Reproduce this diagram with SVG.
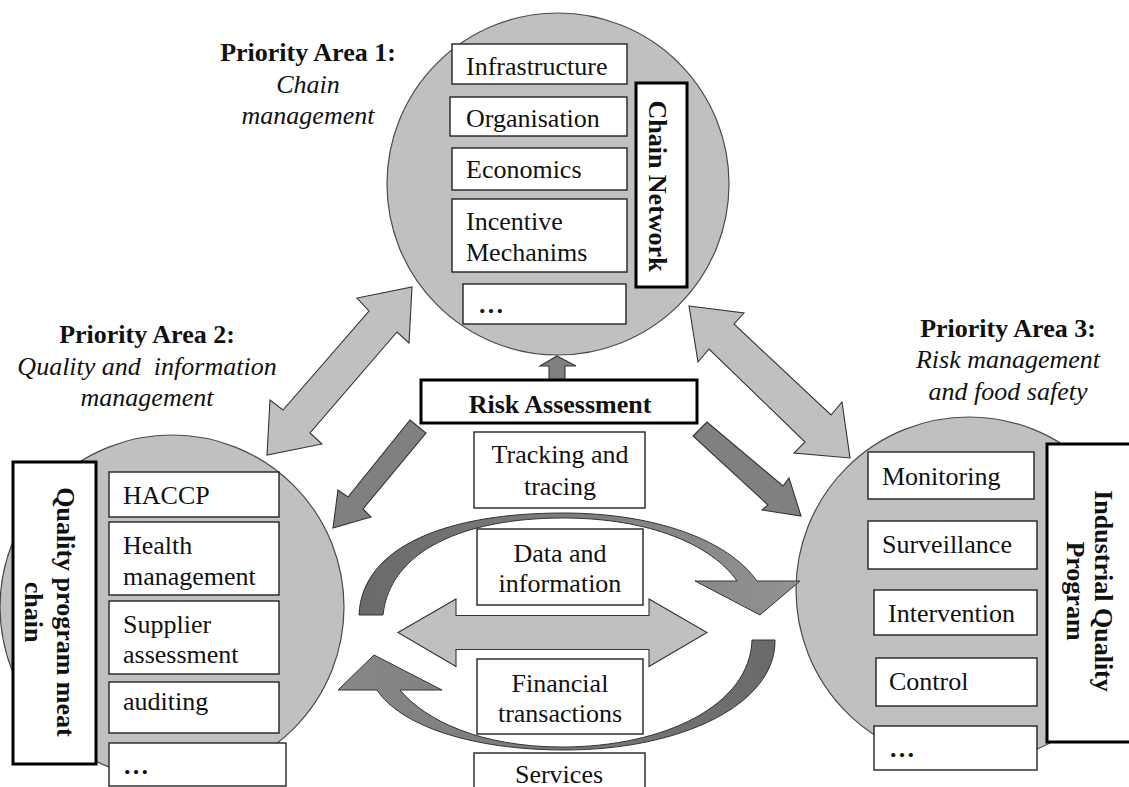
<svg xmlns="http://www.w3.org/2000/svg" width="1129" height="787" viewBox="0 0 1129 787">
  <defs>
    <style>
      .circle { fill: #c0c0c0; stroke: #4a4a4a; stroke-width: 1.2; }
      .box { fill: #ffffff; stroke: #222222; stroke-width: 1.4; }
      .frame { fill: #ffffff; stroke: #000000; stroke-width: 3; }
      .light { fill: #c0c0c0; stroke: #333333; stroke-width: 1.1; stroke-linejoin: miter; }
      .dark { fill: #808080; stroke: #333333; stroke-width: 1.1; }
      text { font-family: "Liberation Serif", "Times New Roman", serif; font-size: 26px; fill: #111111; }
      .b { font-weight: bold; }
      .i { font-style: italic; }
      .c { text-anchor: middle; }
    </style>
    <linearGradient id="curveTop" x1="359" y1="0" x2="800" y2="0" gradientUnits="userSpaceOnUse">
      <stop offset="0" stop-color="#6a6a6a"/>
      <stop offset="1" stop-color="#929292"/>
    </linearGradient>
    <linearGradient id="curveBottom" x1="775" y1="0" x2="338" y2="0" gradientUnits="userSpaceOnUse">
      <stop offset="0" stop-color="#6a6a6a"/>
      <stop offset="1" stop-color="#888888"/>
    </linearGradient>
  </defs>

  <!-- heading labels of the three priority areas -->
  <g id="area1-label">
    <text class="b c" x="308" y="61">Priority Area 1:</text>
    <text class="i c" x="308" y="93">Chain</text>
    <text class="i c" x="308" y="124">management</text>
  </g>
  <g id="area2-label">
    <text class="b c" x="147" y="343">Priority Area 2:</text>
    <text class="i c" x="147" y="375" xml:space="preserve">Quality and  information</text>
    <text class="i c" x="147" y="406">management</text>
  </g>
  <g id="area3-label">
    <text class="b c" x="1008" y="337">Priority Area 3:</text>
    <text class="i c" x="1008" y="368">Risk management</text>
    <text class="i c" x="1008" y="400">and food safety</text>
  </g>

  <!-- Priority area 1: chain network -->
  <g id="chain-network">
    <circle class="circle" cx="558" cy="184" r="171"/>
    <rect class="box" x="452" y="44" width="175" height="40"/>
    <text x="466" y="75">Infrastructure</text>
    <rect class="box" x="450" y="97" width="177" height="39"/>
    <text x="466" y="127">Organisation</text>
    <rect class="box" x="452" y="148" width="175" height="42"/>
    <text x="466" y="178">Economics</text>
    <rect class="box" x="452" y="199" width="175" height="73"/>
    <text x="466" y="230">Incentive</text>
    <text x="466" y="261">Mechanims</text>
    <rect class="box" x="463" y="284" width="163" height="40"/>
    <text class="b" x="478" y="313">…</text>
    <rect class="frame" x="636" y="83" width="51" height="204"/>
    <text class="b c" transform="translate(649,186) rotate(90)">Chain Network</text>
  </g>

  <!-- Priority area 2: quality program meat chain -->
  <g id="quality-program">
    <circle class="circle" cx="172" cy="607" r="172"/>
    <rect class="box" x="109" y="472" width="170" height="45"/>
    <text x="123" y="504">HACCP</text>
    <rect class="box" x="109" y="522" width="170" height="73"/>
    <text x="123" y="554">Health</text>
    <text x="123" y="585">management</text>
    <rect class="box" x="109" y="601" width="170" height="73"/>
    <text x="123" y="633">Supplier</text>
    <text x="123" y="663">assessment</text>
    <rect class="box" x="109" y="682" width="170" height="51"/>
    <text x="123" y="710">auditing</text>
    <rect class="box" x="109" y="743" width="177" height="43"/>
    <text class="b" x="123" y="774">…</text>
    <rect class="frame" x="13" y="462" width="83" height="302"/>
    <text class="b c" transform="translate(57,612) rotate(90)">Quality program meat</text>
    <text class="b c" transform="translate(25,612) rotate(90)">chain</text>
  </g>

  <!-- Priority area 3: industrial quality program -->
  <g id="industrial-program">
    <circle class="circle" cx="969" cy="590" r="173"/>
    <rect class="box" x="868" y="452" width="166" height="47"/>
    <text x="882" y="485">Monitoring</text>
    <rect class="box" x="868" y="521" width="169" height="48"/>
    <text x="882" y="553">Surveillance</text>
    <rect class="box" x="874" y="590" width="163" height="45"/>
    <text x="888" y="622">Intervention</text>
    <rect class="box" x="876" y="658" width="161" height="48"/>
    <text x="889" y="690">Control</text>
    <rect class="box" x="874" y="726" width="163" height="44"/>
    <text class="b" x="889" y="757">…</text>
    <rect class="frame" x="1047" y="444" width="100" height="298"/>
    <text class="b c" transform="translate(1095,591) rotate(90)">Industrial Quality</text>
    <text class="b c" transform="translate(1067,591) rotate(90)">Program</text>
  </g>

  <!-- connectors between the areas and the central flows -->
  <g id="connectors">
    <!-- two-way links between chain network and the other areas -->
    <polygon class="light" points="412,287 409,343 397,332 310,433 322,444 267,455 270,400 283,410 369,311 357,298"/>
    <polygon class="light" points="689,306 744,313 734,324 831,415 842,402 850,458 794,453 805,442 709,349 698,362"/>
    <!-- risk assessment feeding the three areas -->
    <polygon class="dark" points="410,420 426,433 363,509 371,517 333,528 338,490 348,497"/>
    <polygon class="dark" points="707,422 693,436 768,505 762,510 801,516 789,478 783,486"/>
    <polygon class="dark" points="557,356 576,366 565,366 565,381 549,381 549,366 540,366"/>
    <!-- circular exchange between areas 2 and 3 -->
    <path stroke="#333" stroke-width="1" fill="url(#curveTop)" d="M359,615 C362,545 450,513 563,513 C655,513 728,540 757,581 L800,581 L760,615 L695,581 L737,581 C712,545 650,518 563,518 C465,518 390,550 383,615 Z"/>
    <path stroke="#333" stroke-width="1" fill="url(#curveBottom)" d="M775,640 C776,705 680,750 565,750 C470,750 400,725 377,690 L338,690 L374,655 L442,690 L400,690 C425,720 480,747 562,747 C665,747 750,705 752,640 Z"/>
    <polygon class="light" points="398,632.5 456,599 456,615.5 649,615.5 649,599 707,632.5 649,666.5 649,649.5 456,649.5 456,666.5"/>
  </g>

  <!-- central risk assessment block and exchanged items -->
  <g id="risk-assessment">
    <rect class="frame" x="421" y="380" width="276" height="43"/>
    <text class="b c" x="560" y="413">Risk Assessment</text>
  </g>
  <g id="tracking">
    <rect class="box" x="474" y="432" width="171" height="76"/>
    <text class="c" x="560" y="463">Tracking and</text>
    <text class="c" x="560" y="495">tracing</text>
  </g>
  <g id="data">
    <rect class="box" x="477" y="529" width="166" height="76"/>
    <text class="c" x="560" y="562">Data and</text>
    <text class="c" x="560" y="592">information</text>
  </g>
  <g id="financial">
    <rect class="box" x="477" y="659" width="166" height="75"/>
    <text class="c" x="560" y="692">Financial</text>
    <text class="c" x="560" y="722">transactions</text>
  </g>
  <g id="services">
    <rect class="box" x="474" y="753" width="171" height="60"/>
    <text class="c" x="559" y="783">Services</text>
  </g>
</svg>
